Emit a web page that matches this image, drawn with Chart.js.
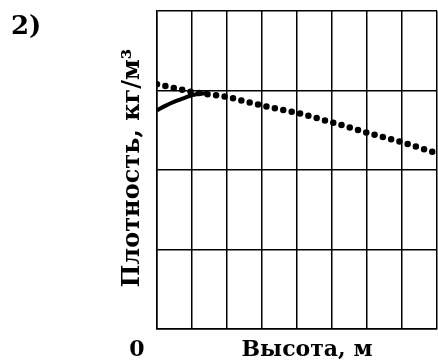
<!DOCTYPE html>
<html>
<head>
<meta charset="utf-8">
<script src="https://cdn.jsdelivr.net/npm/chart.js@4"></script>
<style>
  html, body { margin: 0; padding: 0; background: #fff; }
  #wrap { width: 438px; height: 362px; }
</style>
</head>
<body>
<div id="wrap"><canvas id="c" width="438" height="362"></canvas></div>
<script>
// --- Données ---
const xTicks = [0, 1, 2, 3, 4, 5, 6, 7, 8];
const dottedX = [0, 1, 2, 3, 4, 5, 6, 7, 8];
const dottedY = [3.08, 2.98, 2.92, 2.81, 2.72, 2.60, 2.47, 2.35, 2.21];
const solidX = [0, 0.25, 0.5, 0.75, 1.0, 1.25, 1.45];
const solidY = [2.75, 2.81, 2.86, 2.90, 2.94, 2.96, 2.97];

// --- Textes ---
const TXT = {
  num: '2)',
  yTitle: 'Плотность, кг/м³',
  xTitle: 'Высота, м',
  origin: '0'
};
const FONT = '"DejaVu Serif", "Liberation Serif", serif';

const pts = (xs, ys) => xs.map((x, i) => ({ x, y: ys[i] }));

// Textes dessinés autour de la zone du graphe
const labelsPlugin = {
  id: 'labels',
  afterDraw(chart) {
    const { ctx, chartArea: a } = chart;
    ctx.save();
    ctx.fillStyle = '#000';
    ctx.textBaseline = 'alphabetic';

    ctx.font = 'bold 26px ' + FONT;
    ctx.textAlign = 'left';
    ctx.fillText(TXT.num, 11, 34);

    ctx.font = 'bold 22px ' + FONT;
    ctx.textAlign = 'center';
    ctx.fillText(TXT.origin, a.left - 20, 356);
    ctx.fillText(TXT.xTitle, (a.left + a.right) / 2 + 10, 356);

    ctx.translate(139, 168);
    ctx.rotate(-Math.PI / 2);
    ctx.font = 'bold 24px ' + FONT;
    ctx.fillText(TXT.yTitle, 0, 0);
    ctx.restore();
  }
};

const grid = { color: '#000', lineWidth: 1.5, drawTicks: false };

new Chart(document.getElementById('c'), {
  type: 'scatter',
  data: {
    datasets: [
      {
        data: pts(dottedX, dottedY),
        showLine: true,
        borderColor: '#000',
        borderWidth: 6.5,
        borderDash: [0, 8.6],
        borderCapStyle: 'round',
        pointRadius: 0,
        tension: 0
      },
      {
        data: pts(solidX, solidY),
        showLine: true,
        borderColor: '#000',
        borderWidth: 4,
        pointRadius: 0,
        tension: 0.4
      }
    ]
  },
  options: {
    responsive: false,
    animation: false,
    layout: { padding: { left: 157, top: 11, right: 1, bottom: 33 } },
    plugins: { legend: { display: false }, tooltip: { enabled: false } },
    scales: {
      x: {
        type: 'linear', min: 0, max: 8,
        afterBuildTicks: (s) => { s.ticks = xTicks.map(v => ({ value: v })); },
        ticks: { display: false },
        grid,
        border: { color: '#000', width: 1.5 }
      },
      y: {
        type: 'linear', min: 0, max: 4,
        ticks: { display: false, stepSize: 1 },
        grid,
        border: { color: '#000', width: 1.5 }
      }
    }
  },
  plugins: [labelsPlugin]
});
</script>
</body>
</html>
